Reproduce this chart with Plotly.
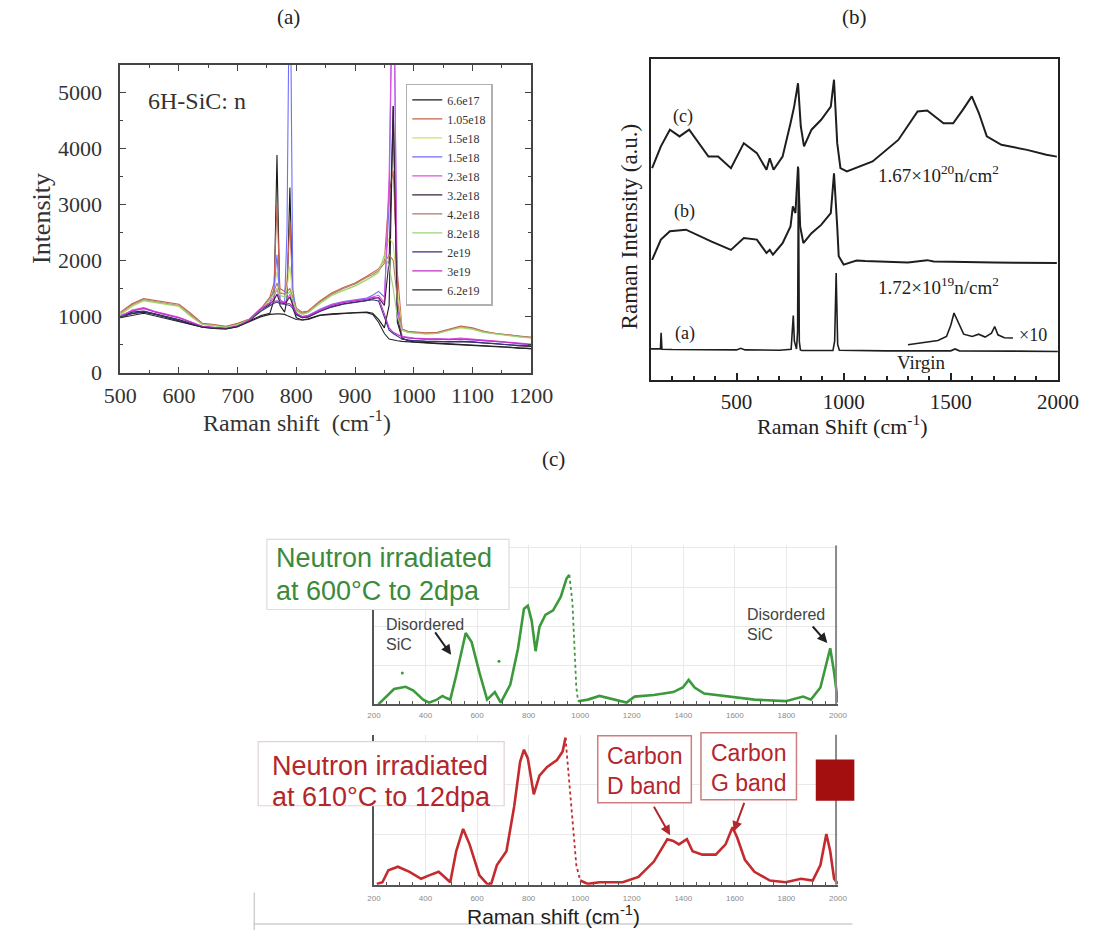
import plotly.graph_objects as go

W, H = 1105, 943


def px(x):
    return x / W


def py(y):
    return 1 - y / H


SERIF = "Liberation Serif, Times New Roman, serif"
SANS = "Liberation Sans, Arial, sans-serif"

# ---------------- (a) 6H-SiC spectra vs. neutron fluence ----------------
shift_a = [500, 520, 540, 560, 580, 600, 620, 640, 660, 680, 700, 720, 740, 755,
           762, 767, 772, 780, 784, 789, 794, 800, 810, 820, 840, 860, 880, 900,
           920, 930, 940, 950, 958, 965, 972, 980, 990, 1000, 1020, 1040, 1060,
           1080, 1100, 1120, 1140, 1160, 1180, 1200]

fluence_labels = ["6.6e17", "1.05e18", "1.5e18", "1.5e18", "2.3e18", "3.2e18",
                  "4.2e18", "8.2e18", "2e19", "3e19", "6.2e19"]
fluence_colors = ["#1a1a1a", "#c8604c", "#cfe070", "#6e6eff", "#e050e0", "#3a1e3a",
                  "#b27a5e", "#98d47c", "#33337f", "#c030c8", "#262626"]

int_6_6e17 = [1000, 1050, 1080, 1040, 980, 920, 870, 820, 800, 790, 830, 920, 1020, 1060,
              1300, 3880, 1200, 1080, 1300, 3300, 1150, 980, 940, 960, 1030, 1050, 1060, 1080,
              1080, 1060, 950, 800, 1200, 4750, 900, 620, 570, 550, 540, 530, 520,
              510, 500, 490, 470, 460, 440, 430]
int_1_05e18 = [1080, 1230, 1320, 1290, 1250, 1220, 1060, 880, 860, 830, 880, 960, 1150, 1350,
               1600, 3000, 1500, 1450, 1600, 2700, 1400, 1150, 1080, 1100, 1280, 1420, 1520, 1600,
               1720, 1780, 1850, 2000, 3200, 3600, 1800, 780, 740, 730, 710, 720, 780,
               830, 800, 740, 700, 680, 650, 630]
int_1_5e18_a = [1030, 1180, 1280, 1250, 1210, 1180, 1000, 860, 840, 810, 860, 940, 1100, 1300,
                1500, 1800, 1450, 1400, 1500, 1900, 1350, 1100, 1050, 1080, 1230, 1370, 1460, 1540,
                1650, 1710, 1780, 2050, 2400, 2300, 1500, 760, 720, 710, 690, 700, 760,
                800, 770, 720, 690, 660, 640, 620]
int_1_5e18_b = [1020, 1100, 1140, 1080, 1030, 980, 900, 830, 810, 800, 840, 950, 1150, 1250,
                1500, 2100, 1300, 1250, 2500, 8000, 1500, 1050, 1000, 1020, 1130, 1220, 1270, 1300,
                1330, 1380, 1450, 1350, 3000, 8000, 1200, 640, 620, 610, 600, 600, 590,
                600, 590, 570, 560, 540, 520, 500]
int_2_3e18 = [1000, 1120, 1160, 1090, 1040, 990, 910, 830, 810, 800, 840, 950, 1150, 1250,
              1350, 1500, 1280, 1260, 1300, 1400, 1230, 1060, 1000, 1020, 1120, 1210, 1260, 1290,
              1320, 1350, 1380, 1250, 3500, 8000, 1100, 650, 630, 620, 610, 610, 600,
              620, 600, 580, 570, 550, 530, 510]
int_3_2e18 = [990, 1080, 1100, 1050, 1000, 950, 880, 820, 800, 790, 830, 940, 1120, 1220,
              1300, 1400, 1250, 1230, 1280, 1350, 1200, 1030, 980, 1000, 1100, 1180, 1230, 1260,
              1290, 1320, 1340, 1200, 2000, 4750, 1000, 600, 580, 570, 560, 560, 550,
              560, 550, 530, 520, 500, 480, 470]
int_4_2e18 = [1060, 1210, 1300, 1270, 1230, 1200, 1030, 870, 850, 820, 870, 950, 1130, 1330,
              1450, 1600, 1420, 1400, 1450, 1500, 1330, 1120, 1060, 1090, 1260, 1400, 1500, 1580,
              1700, 1750, 1820, 1950, 2100, 2000, 1300, 770, 730, 720, 700, 710, 770,
              820, 790, 730, 700, 670, 650, 630]
int_8_2e18 = [1040, 1190, 1290, 1260, 1220, 1190, 1010, 860, 840, 810, 860, 940, 1110, 1300,
              1400, 1500, 1380, 1350, 1400, 1450, 1300, 1100, 1040, 1070, 1240, 1380, 1470, 1550,
              1660, 1720, 1800, 2100, 1900, 1500, 1000, 760, 720, 710, 690, 700, 760,
              810, 780, 720, 690, 660, 640, 620]
int_2e19 = [980, 1060, 1090, 1040, 990, 940, 870, 810, 790, 780, 820, 930, 1100, 1200,
            1240, 1260, 1230, 1220, 1210, 1200, 1150, 1040, 980, 990, 1090, 1170, 1220, 1250,
            1280, 1300, 1280, 1000, 760, 700, 650, 600, 580, 570, 560, 560, 550,
            560, 550, 530, 520, 500, 490, 480]
int_3e19 = [1000, 1100, 1150, 1080, 1030, 980, 900, 820, 800, 790, 830, 940, 1140, 1240,
            1270, 1280, 1260, 1250, 1240, 1230, 1180, 1060, 1000, 1010, 1110, 1200, 1250, 1280,
            1310, 1340, 1330, 1050, 800, 720, 680, 640, 620, 610, 600, 600, 590,
            600, 590, 570, 560, 540, 520, 500]
int_6_2e19 = [980, 1020, 1060, 1010, 960, 910, 860, 810, 790, 780, 820, 910, 1000, 1040,
              1050, 1050, 1050, 1040, 1020, 1000, 980, 950, 940, 950, 1020, 1040, 1050, 1070,
              1070, 1040, 900, 700, 600, 580, 570, 560, 550, 540, 530, 520, 510,
              500, 490, 480, 460, 450, 440, 430]

spectra_a = [int_6_6e17, int_1_05e18, int_1_5e18_a, int_1_5e18_b, int_2_3e18, int_3_2e18,
             int_4_2e18, int_8_2e18, int_2e19, int_3e19, int_6_2e19]

# ---------------- (b) virgin and irradiated SiC ----------------
virgin_shift = [100, 140, 145, 148, 152, 200, 500, 520, 540, 700, 755, 760, 765, 770, 780,
                785, 789, 793, 798, 805, 950, 958, 965, 972, 980, 1200, 1500, 1520, 1540,
                1800, 2000]
virgin_int = [9.6, 9.5, 9.7, 14.6, 9.5, 9.4, 9.3, 9.8, 9.3, 9.2, 9.5, 15, 20, 12, 9.6,
              15, 66, 12, 9.3, 9.1, 9.1, 12, 33.3, 11, 9.2, 9.0, 9.0, 9.6, 9.0, 8.9, 8.8]

x10_shift = [1300, 1350, 1400, 1440, 1480, 1500, 1515, 1530, 1560, 1600, 1630, 1660, 1690,
             1705, 1720, 1750, 1790]
x10_int = [10.9, 11.3, 11.9, 12.2, 13.5, 17, 20.8, 18.5, 14.2, 13.5, 14.2, 13.3, 14.5,
           16.6, 14, 13.1, 13.0]

low_shift = [106, 147, 189, 264, 384, 474, 534, 595, 640, 655, 670, 715, 752, 763, 775,
             787, 797, 812, 850, 895, 940, 955, 970, 977, 1000, 1060, 1100, 1200, 1300,
             1390, 1420, 1500, 1600, 1700, 1800, 1900, 1995]
low_int = [37.4, 43.7, 46.3, 46.8, 43.1, 40.5, 44.2, 43.7, 39.5, 40.5, 39.0, 42.6, 47.8,
           54.1, 52.0, 66.5, 47.8, 42.6, 45.7, 48.3, 52.0, 64.4, 47.8, 38.5, 35.9, 37.2,
           37.0, 36.7, 36.6, 37.3, 36.9, 36.8, 36.6, 36.6, 36.5, 36.5, 36.4]

high_shift = [106, 147, 189, 234, 279, 369, 414, 474, 534, 595, 640, 655, 673, 715, 752,
              769, 787, 800, 815, 850, 895, 940, 955, 970, 985, 1015, 1135, 1255, 1345,
              1390, 1466, 1511, 1556, 1598, 1631, 1668, 1736, 1856, 1946, 1995]
high_int = [66.0, 72.8, 78.0, 75.9, 78.0, 69.6, 69.6, 66.0, 73.8, 70.7, 65.5, 69.1, 65.5,
            69.6, 80.0, 85.2, 92.5, 79.0, 72.8, 78.0, 81.1, 85.2, 93.6, 73.8, 66.0, 65.0,
            68.1, 74.8, 83.7, 84.0, 80.0, 80.0, 84.2, 88.4, 83.2, 75.9, 73.3, 71.7, 70.2,
            69.6]

# ---------------- (c) 2 dpa and 12 dpa spectra ----------------
dpa2_shift = [218, 240, 278, 323, 353, 391, 414, 444, 466, 481, 496, 519, 556, 579, 609,
              639, 669, 692, 729, 759, 782, 797, 812, 827, 842, 865, 895, 925, 947, 958,
              970, 977, 985, 992, 1030, 1075, 1135, 1180, 1211, 1286, 1361, 1398, 1421,
              1444, 1481, 1571, 1676, 1797, 1865, 1895, 1932, 1970, 1985, 2000]
dpa2_int = [0, 4, 11.6, 13.3, 10.5, 3.5, 1.2, 3.5, 6.3, 4.7, 3.5, 22, 54.7, 47.7, 24.4,
            3.5, 9.3, 1.2, 15.1, 43, 73.3, 75.6, 64, 40.7, 59.3, 68.6, 72.1, 82.6, 96.5,
            99.3, 77.9, 47.7, 12.8, 2.3, 3.5, 6.3, 3.5, 1.2, 5.8, 7, 9.3, 12.8, 18.6,
            12.8, 8.1, 5.8, 3.5, 2.3, 5.8, 3.5, 12.8, 43, 24.4, 1.2]
dpa2_stray_shift = [310, 685]
dpa2_stray_int = [24, 33]

dpa12_shift = [211, 233, 256, 293, 338, 383, 414, 451, 474, 496, 519, 546, 571, 609, 639,
               654, 677, 714, 744, 767, 782, 797, 820, 842, 872, 910, 932, 943, 955, 970,
               985, 1000, 1030, 1075, 1165, 1226, 1286, 1338, 1361, 1383, 1414, 1436,
               1474, 1526, 1564, 1591, 1609, 1639, 1676, 1736, 1797, 1857, 1902, 1932,
               1955, 1970, 1985, 2000]
dpa12_int = [0.5, 1.6, 9.8, 12.2, 8.7, 4, 6.3, 8.7, 5.2, 1.6, 22.7, 37.9, 27.4, 6.3, 0.5,
             0, 13.3, 22.7, 53.2, 83.6, 91.8, 85.9, 61.4, 74.2, 80.1, 84.8, 90.6, 100,
             76.6, 46.1, 13.3, 2.8, 0.5, 1.6, 1.6, 5.2, 15.7, 30.9, 29.7, 27.4, 30.9,
             22.7, 20.4, 20.4, 27.4, 39.1, 32.1, 16.9, 8.7, 2.8, 1.6, 4, 2.8, 13.3, 34.4,
             22.7, 4, 0.5]

fig = go.Figure()

# (a) traces
for name, color, vals in zip(fluence_labels, fluence_colors, spectra_a):
    fig.add_trace(go.Scatter(x=shift_a, y=vals, mode="lines", name=name,
                             line=dict(color=color, width=1.1),
                             xaxis="x", yaxis="y", cliponaxis=True))

# (b) traces
b_line = dict(color="#1e1e1e", width=2)
fig.add_trace(go.Scatter(x=virgin_shift, y=virgin_int, mode="lines", line=dict(color="#1e1e1e", width=1.6),
                         xaxis="x2", yaxis="y2", showlegend=False))
fig.add_trace(go.Scatter(x=x10_shift, y=x10_int, mode="lines", line=dict(color="#1e1e1e", width=1.6),
                         xaxis="x2", yaxis="y2", showlegend=False))
fig.add_trace(go.Scatter(x=low_shift, y=low_int, mode="lines", line=b_line,
                         xaxis="x2", yaxis="y2", showlegend=False))
fig.add_trace(go.Scatter(x=high_shift, y=high_int, mode="lines", line=b_line,
                         xaxis="x2", yaxis="y2", showlegend=False))


def add_split_curve(xs, ys, color, peak_x, drop_x, xa, ya):
    i0 = xs.index(peak_x)
    i1 = xs.index(drop_x)
    fig.add_trace(go.Scatter(x=xs[:i0 + 1], y=ys[:i0 + 1], mode="lines",
                             line=dict(color=color, width=2.6), xaxis=xa, yaxis=ya, showlegend=False))
    fig.add_trace(go.Scatter(x=xs[i0:i1 + 1], y=ys[i0:i1 + 1], mode="lines",
                             line=dict(color=color, width=1.8, dash="dot"), xaxis=xa, yaxis=ya,
                             showlegend=False))
    fig.add_trace(go.Scatter(x=xs[i1:], y=ys[i1:], mode="lines",
                             line=dict(color=color, width=2.6), xaxis=xa, yaxis=ya, showlegend=False))


GREEN = "#3c9a3c"
RED = "#c42a2e"
add_split_curve(dpa2_shift, dpa2_int, GREEN, 958, 992, "x3", "y3")
fig.add_trace(go.Scatter(x=dpa2_stray_shift, y=dpa2_stray_int, mode="markers",
                         marker=dict(color=GREEN, size=3), xaxis="x3", yaxis="y3", showlegend=False))
add_split_curve(dpa12_shift, dpa12_int, RED, 943, 1000, "x4", "y4")

axis_a = dict(showline=True, linecolor="#444", linewidth=1.5, mirror="ticks", ticks="inside",
              tickcolor="#444", ticklen=6, showgrid=False, zeroline=False,
              tickfont=dict(family=SERIF, size=22, color="#333"))
axis_c = dict(showline=True, linecolor="#555", linewidth=1.5, ticks="inside", ticklen=3,
              tickcolor="#555", showgrid=True, gridcolor="#e9e9e9", zeroline=False,
              tickfont=dict(family=SANS, size=8, color="#8a8a8a"))

fig.update_layout(
    width=W, height=H, margin=dict(l=0, r=0, t=0, b=0),
    paper_bgcolor="white", plot_bgcolor="rgba(0,0,0,0)",
    xaxis=dict(axis_a, domain=[px(107), px(533)], range=[500, 1200], anchor="y",
               tick0=500, dtick=100, ticklabelstandoff=2,
               minor=dict(dtick=50, ticks="inside", ticklen=3, tickcolor="#444")),
    yaxis=dict(axis_a, domain=[py(378), py(66)], range=[0, 5480], anchor="x",
               tick0=0, dtick=1000, ticklabelstandoff=12,
               minor=dict(dtick=500, ticks="inside", ticklen=3, tickcolor="#444")),
    xaxis2=dict(domain=[px(657), px(1079)], range=[100, 2000], anchor="y2",
                showline=True, linecolor="#222", linewidth=2.2, mirror=True,
                ticks="inside", ticklen=7, tickwidth=2, tickcolor="#222", tickvals=[500, 1000, 1500, 2000],
                minor=dict(tickvals=list(range(200, 2000, 100)), ticks="inside", ticklen=4, tickwidth=2, tickcolor="#222"),
                showgrid=False, zeroline=False, ticklabelstandoff=2,
                tickfont=dict(family=SERIF, size=21, color="#222")),
    yaxis2=dict(domain=[py(385), py(60)], range=[0, 100], anchor="x2",
                showline=True, linecolor="#222", linewidth=2.2, mirror=True,
                showticklabels=False, ticks="", showgrid=False, zeroline=False),
    xaxis3=dict(axis_c, domain=[px(370), px(851)], range=[200, 2000], anchor="y3",
                tick0=200, dtick=200, ticklabelstandoff=2,
                minor=dict(dtick=50, ticks="inside", ticklen=3, tickcolor="#555", showgrid=False)),
    yaxis3=dict(axis_c, domain=[py(714), py(553)], range=[0, 122], anchor="x3",
                dtick=30, showticklabels=False, ticks=""),
    xaxis4=dict(axis_c, domain=[px(370), px(851)], range=[200, 2000], anchor="y4",
                tick0=200, dtick=200, ticklabelstandoff=5,
                minor=dict(dtick=50, ticks="inside", ticklen=3, tickcolor="#555", showgrid=False)),
    yaxis4=dict(axis_c, domain=[py(897), py(745)], range=[0, 102], anchor="x4",
                dtick=34, showticklabels=False, ticks=""),
    legend=dict(x=px(403), y=py(85), xanchor="left", yanchor="top",
                bgcolor="white", bordercolor="#b0b0b0", borderwidth=1.5,
                font=dict(family=SERIF, size=12, color="#333"),
                itemwidth=30, tracegroupgap=0, traceorder="normal"),
)

shapes = []
# right-hand frame lines of the (c) plots
shapes.append(dict(type="line", xref="paper", yref="paper", x0=px(849), x1=px(849), y0=py(553), y1=py(714),
                   line=dict(color="#8a8a8a", width=2)))
shapes.append(dict(type="line", xref="paper", yref="paper", x0=px(849), x1=px(849), y0=py(745), y1=py(897),
                   line=dict(color="#8a8a8a", width=2)))
# slide outline around the lower plot
shapes.append(dict(type="line", xref="paper", yref="paper", x0=px(245), x1=px(866), y0=py(937), y1=py(937),
                   line=dict(color="#cfcfcf", width=1.5)))
shapes.append(dict(type="line", xref="paper", yref="paper", x0=px(246), x1=px(246), y0=py(905), y1=py(943),
                   line=dict(color="#cfcfcf", width=1.5)))
# label boxes in (c)
shapes.append(dict(type="rect", xref="paper", yref="paper", x0=px(259), x1=px(510), y0=py(618), y1=py(547),
                   fillcolor="white", line=dict(color="#dcdcdc", width=1.2), layer="above"))
shapes.append(dict(type="rect", xref="paper", yref="paper", x0=px(250), x1=px(505), y0=py(817), y1=py(752),
                   fillcolor="white", line=dict(color="#e2d2d2", width=1.2), layer="above"))
shapes.append(dict(type="rect", xref="paper", yref="paper", x0=px(602), x1=px(699), y0=py(814), y1=py(746),
                   fillcolor="white", line=dict(color="#cf7d7d", width=1.5), layer="above"))
shapes.append(dict(type="rect", xref="paper", yref="paper", x0=px(709), x1=px(808), y0=py(811), y1=py(743),
                   fillcolor="white", line=dict(color="#cf7d7d", width=1.5), layer="above"))
shapes.append(dict(type="rect", xref="paper", yref="paper", x0=px(828), x1=px(868), y0=py(812), y1=py(770),
                   fillcolor="#a30f0f", line=dict(width=0), layer="above"))

annotations = []


def text(x, y, s, size, family=SERIF, color="#222", xanchor="center", yanchor="middle",
         align="center", angle=0):
    annotations.append(dict(x=px(x), y=py(y), xref="paper", yref="paper", text=s, showarrow=False,
                            font=dict(family=family, size=size, color=color), xanchor=xanchor,
                            yanchor=yanchor, align=align, textangle=angle))


def arrow(x0, y0, x1, y1, color, width=2):
    annotations.append(dict(x=px(x1), y=py(y1), xref="paper", yref="paper", ax=x0 - x1, ay=y0 - y1,
                            axref="pixel", ayref="pixel", text="", showarrow=True, arrowhead=2,
                            arrowsize=1, arrowwidth=width, arrowcolor=color))


# panel letters
text(281, 17, "(a)", 21)
text(868, 17, "(b)", 21)
text(556, 465, "(c)", 21)

# (a) labels
text(134, 102, "6H-SiC: n", 24, xanchor="left", color="#333")
text(26, 222, "Intensity", 26, angle=-90, color="#333")
text(290, 427, "Raman shift  (cm<sup>-1</sup>)", 24, color="#333")

# (b) labels
text(635, 230, "Raman Intensity (a.u.)", 23, angle=-90)
text(855, 431, "Raman Shift (cm<sup>-1</sup>)", 22)
text(690, 118, "(c)", 18)
text(692, 214, "(b)", 18)
text(692, 338, "(a)", 18)
text(955, 176, "1.67×10<sup>20</sup>n/cm<sup>2</sup>", 19)
text(955, 290, "1.72×10<sup>19</sup>n/cm<sup>2</sup>", 19)
text(938, 368, "Virgin", 19)
text(1053, 340, "×10", 18)

# (c) labels
text(266, 566, "Neutron irradiated", 27, family=SANS, color="#3b8a3b", xanchor="left")
text(266, 599, "at 600°C to 2dpa", 27, family=SANS, color="#3b8a3b", xanchor="left")
text(262, 777, "Neutron irradiated", 27, family=SANS, color="#b3262b", xanchor="left")
text(262, 808, "at 610°C to 12dpa", 27, family=SANS, color="#b3262b", xanchor="left")
text(650, 767, "Carbon", 23, family=SANS, color="#b3262b")
text(650, 797, "D band", 23, family=SANS, color="#b3262b")
text(758, 764, "Carbon", 23, family=SANS, color="#b3262b")
text(758, 794, "G band", 23, family=SANS, color="#b3262b")
text(380, 633, "Disordered", 16, family=SANS, color="#444", xanchor="left")
text(380, 654, "SiC", 16, family=SANS, color="#444", xanchor="left")
text(755, 623, "Disordered", 16, family=SANS, color="#444", xanchor="left")
text(755, 643, "SiC", 16, family=SANS, color="#444", xanchor="left")
text(556, 928, "Raman shift (cm<sup>-1</sup>)", 21, family=SANS, color="#222")

arrow(433, 640, 450, 664, "#222")
arrow(824, 634, 840, 652, "#222")
arrow(660, 817, 677, 847, "#b3262b")
arrow(754, 813, 743, 843, "#b3262b")

fig.update_layout(shapes=shapes, annotations=annotations)

fig.write_html("out.html")
